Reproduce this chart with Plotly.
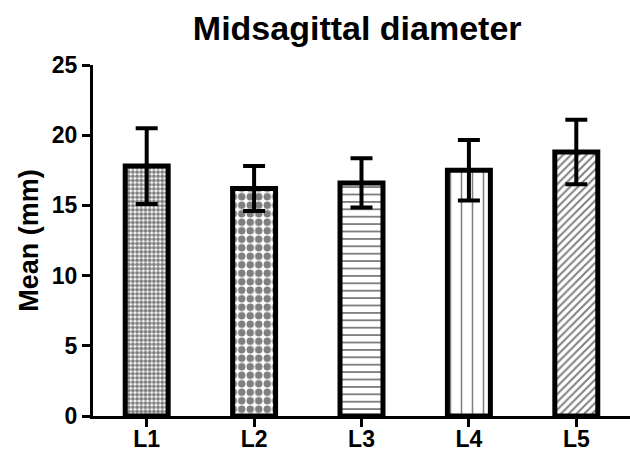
import plotly.graph_objects as go

categories = ["L1", "L2", "L3", "L4", "L5"]
means = [17.8, 16.2, 16.6, 17.5, 18.8]
sds = [2.7, 1.6, 1.75, 2.15, 2.3]
patterns = [".", ".", "-", "|", "/"]
pattern_sizes = [4.2, 8.5, 7.4, 11, 5.5]
pattern_solidity = [0.65, 0.6, 0.25, 0.14, 0.35]

fig = go.Figure()
fig.add_trace(go.Bar(
    x=categories, y=means, width=0.40,
    marker=dict(
        color="white",
        line=dict(color="black", width=5),
        pattern=dict(shape=patterns, size=pattern_sizes, solidity=pattern_solidity,
                     fgcolor="black", bgcolor="white", fillmode="overlay"),
    ),
    error_y=dict(type="data", array=sds, visible=True, color="black", thickness=4, width=11),
))

font = "Liberation Sans, Arial, sans-serif"
fig.update_layout(
    width=630, height=453,
    margin=dict(l=93, r=0, t=65, b=37),
    paper_bgcolor="white", plot_bgcolor="white",
    showlegend=False,
    title=dict(text="Midsagittal diameter", x=0.567, xanchor="center", y=0.938, yanchor="middle",
               font=dict(family=font, size=34, color="black", weight="bold")),
    font=dict(family=font, color="black"),
)
fig.update_xaxes(
    range=[-0.5, 4.5], showline=True, linecolor="black", linewidth=3,
    ticks="outside", ticklen=8, tickwidth=3, tickcolor="black",
    tickfont=dict(size=23, family=font, color="black", weight="bold"),
    ticklabelstandoff=-8,
    showgrid=False, zeroline=False, automargin=False,
)
fig.update_yaxes(
    range=[0, 25], tickvals=[0, 5, 10, 15, 20, 25], showline=True, linecolor="black", linewidth=3,
    ticks="outside", ticklen=8, tickwidth=3, tickcolor="black",
    tickfont=dict(size=23, family=font, color="black", weight="bold"),
    showgrid=False, zeroline=False, automargin=False,
    title=dict(text="Mean (mm)", font=dict(size=27, family=font, color="black", weight="bold"), standoff=6),
)
fig.write_html("out.html", config={"displayModeBar": False},
               post_script="document.body.style.margin='0';")
